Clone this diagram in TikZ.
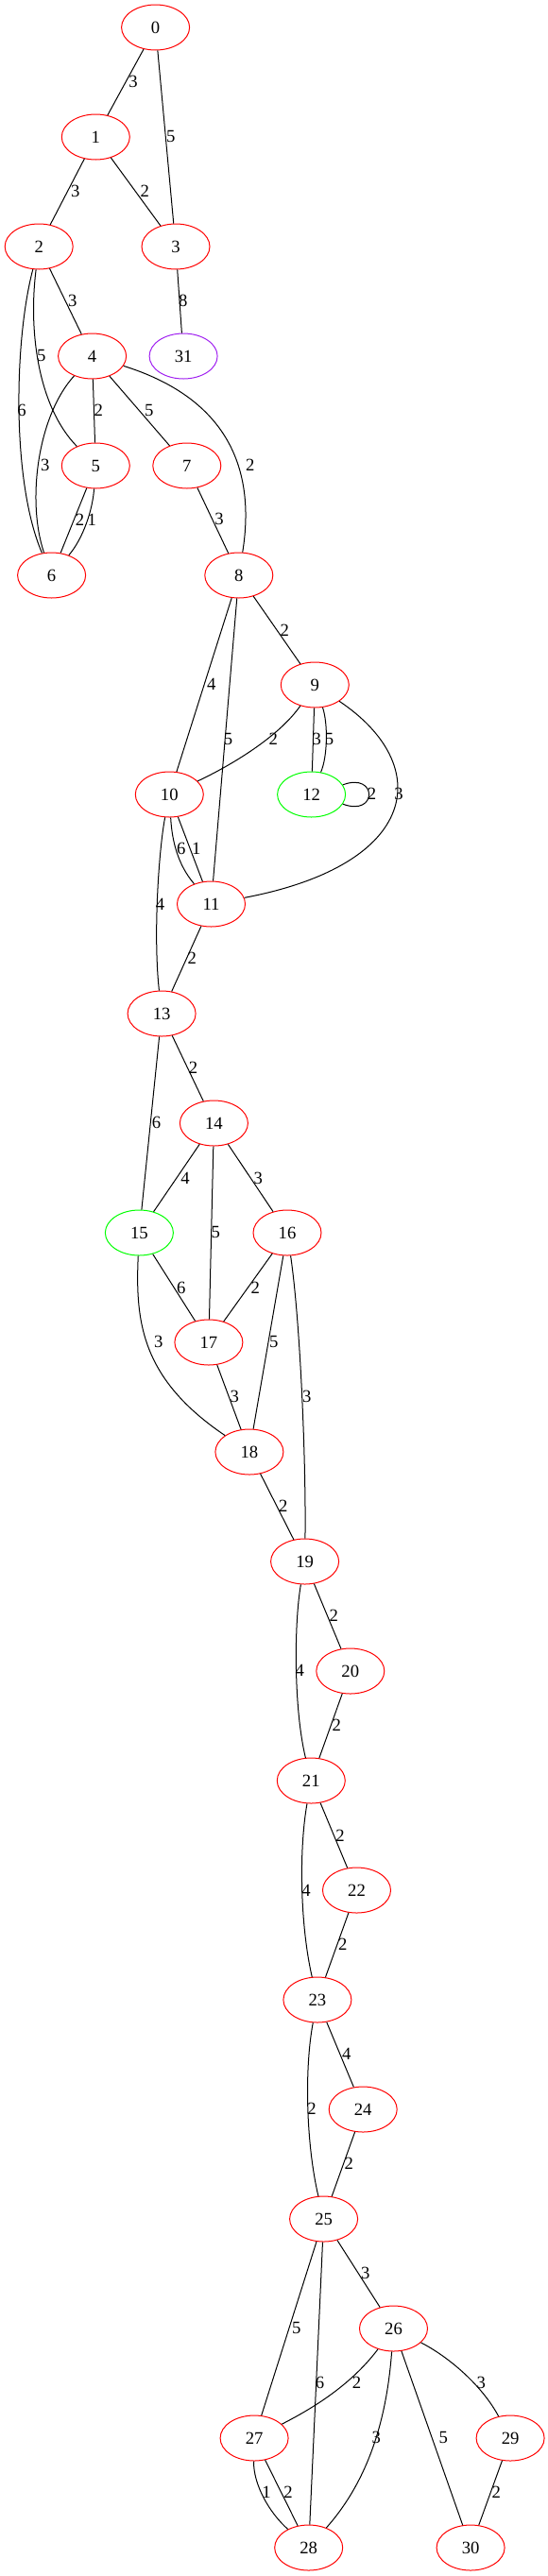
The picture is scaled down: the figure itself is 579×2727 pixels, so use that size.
\documentclass[tikz,border=0pt]{standalone}
\usepackage{fontspec}
\setmainfont{Liberation Serif}
\usetikzlibrary{shapes.geometric}
\definecolor{gvred}{HTML}{FF0000}
\definecolor{gvgreen}{HTML}{00FF00}
\definecolor{gvpurple}{HTML}{A020F0}
\begin{document}
\begin{tikzpicture}[x=0.75pt,y=-0.75pt,
  vtx/.style={ellipse,draw=gvred,line width=0.75pt,minimum width=54pt,minimum height=36pt,inner sep=0pt,font=\fontsize{14}{16}\selectfont},
  vgreen/.style={vtx,draw=gvgreen},
  vpurple/.style={vtx,draw=gvpurple},
  lbl/.style={inner sep=0pt,font=\fontsize{14}{16}\selectfont},
  con/.style={line width=0.75pt,draw=black}]
\useasboundingbox (0,0) rectangle (579,2727);
% vertices
\node[vtx] (n0) at (164.6,29) {0};
\node[vtx] (n1) at (101.3,145) {1};
\node[vtx] (n2) at (41.2,261) {2};
\node[vtx] (n3) at (186,261) {3};
\node[vtx] (n4) at (97.6,377) {4};
\node[vpurple] (n31) at (194.1,377) {31};
\node[vtx] (n5) at (101.3,493) {5};
\node[vtx] (n7) at (197.8,493) {7};
\node[vtx] (n6) at (54.6,609) {6};
\node[vtx] (n8) at (252.8,609) {8};
\node[vtx] (n9) at (333.3,725) {9};
\node[vtx] (n10) at (179.3,841) {10};
\node[vgreen] (n12) at (329.6,841) {12};
\node[vtx] (n11) at (223.5,957) {11};
\node[vtx] (n13) at (171.1,1073) {13};
\node[vtx] (n14) at (226.4,1189) {14};
\node[vgreen] (n15) at (147.4,1305) {15};
\node[vtx] (n16) at (304,1305) {16};
\node[vtx] (n17) at (220.9,1421) {17};
\node[vtx] (n18) at (263.9,1537) {18};
\node[vtx] (n19) at (322.6,1653) {19};
\node[vtx] (n20) at (370.8,1769) {20};
\node[vtx] (n21) at (329.3,1885) {21};
\node[vtx] (n22) at (377.5,2001) {22};
\node[vtx] (n23) at (335.9,2117) {23};
\node[vtx] (n24) at (384.2,2233) {24};
\node[vtx] (n25) at (342.6,2349) {25};
\node[vtx] (n26) at (416.5,2465) {26};
\node[vtx] (n27) at (269.1,2581) {27};
\node[vtx] (n29) at (540.1,2581) {29};
\node[vtx] (n28) at (326.7,2697) {28};
\node[vtx] (n30) at (498.1,2697) {30};
% connectors
\draw[con] (n0) -- (n1);
\draw[con] (n0) -- (n3);
\draw[con] (n1) -- (n2);
\draw[con] (n1) -- (n3);
\draw[con] (n3) -- (n31);
\draw[con] (n2) -- (n4);
\draw[con] (n2) .. controls (15,360) and (12,510) .. (n6);
\draw[con] (n2) .. controls (30,350) and (40,430) .. (n5);
\draw[con] (n4) .. controls (40,440) and (28,530) .. (n6);
\draw[con] (n4) -- (n5);
\draw[con] (n4) -- (n7);
\draw[con] (n4) .. controls (235,420) and (272,490) .. (n8);
\draw[con] (n5) -- (n6);
\draw[con] (n5) .. controls (98,540) and (88,570) .. (n6);
\draw[con] (n7) -- (n8);
\draw[con] (n8) -- (n9);
\draw[con] (n8) -- (n10);
\draw[con] (n8) -- (n11);
\draw[con] (n9) .. controls (295,780) and (245,810) .. (n10);
\draw[con] (n9) -- (n12);
\draw[con] (n9) .. controls (347,765) and (347,800) .. (n12);
\draw[con] (n9) .. controls (460,810) and (445,915) .. (n11);
\draw[con] (n12.17) .. controls +(37,-14) and +(37,14) .. (n12.-17);
\draw[con] (n10) .. controls (182,890) and (188,915) .. (n11);
\draw[con] (n10) -- (n11);
\draw[con] (n10) .. controls (168,900) and (162,990) .. (n13);
\draw[con] (n11) -- (n13);
\draw[con] (n13) -- (n14);
\draw[con] (n13) -- (n15);
\draw[con] (n14) -- (n15);
\draw[con] (n14) -- (n16);
\draw[con] (n14) -- (n17);
\draw[con] (n15) -- (n17);
\draw[con] (n15) .. controls (143,1400) and (150,1460) .. (n18);
\draw[con] (n16) -- (n17);
\draw[con] (n16) -- (n18);
\draw[con] (n16) .. controls (318,1400) and (324,1550) .. (n19);
\draw[con] (n17) -- (n18);
\draw[con] (n18) -- (n19);
\draw[con] (n19) -- (n20);
\draw[con] (n19) .. controls (311,1720) and (311,1810) .. (n21);
\draw[con] (n20) -- (n21);
\draw[con] (n21) -- (n22);
\draw[con] (n21) .. controls (316,1960) and (318,2040) .. (n23);
\draw[con] (n22) -- (n23);
\draw[con] (n23) -- (n24);
\draw[con] (n23) .. controls (322,2190) and (324,2270) .. (n25);
\draw[con] (n24) -- (n25);
\draw[con] (n25) -- (n26);
\draw[con] (n25) -- (n27);
\draw[con] (n25) -- (n28);
\draw[con] (n26) .. controls (375,2520) and (340,2545) .. (n27);
\draw[con] (n26) .. controls (410,2550) and (395,2620) .. (n28);
\draw[con] (n26) -- (n30);
\draw[con] (n26) .. controls (475,2495) and (510,2525) .. (n29);
\draw[con] (n27) .. controls (268,2630) and (285,2660) .. (n28);
\draw[con] (n27) -- (n28);
\draw[con] (n29) -- (n30);
% edge labels
\foreach \nm/\x/\y/\t in {
  a/141/86/3, b/180.8/144/5, c/79.8/202/3, d/153.3/202/2, e/193.8/318/8,
  f/76.8/318/3, g/23/434/6, h/43.8/376/5, i/47.9/492/3, j/104.3/434/2,
  k/157.8/434/5, l/264.7/492/2, m/84.6/550/2, n/97.3/550/1, o/232/549/3,
  p/301.4/667/2, q/223.8/724/4, r/241.6/782/5, s/289.2/782/2, t/335.2/782/3,
  u/348.5/782/5, v/422/840/3, w/393.5/840/2, x/191.9/898/6, y/207.9/898/1,
  z/169.6/957/4, aa/203.4/1014/2, ab/204.5/1130/2, ac/165.6/1188/6, ad/196/1247/4,
  ae/273.2/1247/3, af/228.3/1304/5, ag/191.9/1363/6, ah/167.8/1420/3, ai/270.2/1363/2,
  aj/289.9/1420/5, ak/324.8/1478/3, al/248.3/1478/3, am/299.9/1594/2, an/353.4/1710/2,
  ao/317.4/1768/4, ap/356.3/1826/2, aq/360/1943/2, ar/324/2001/4, as/362.7/2058/2,
  at/366.7/2174/4, au/330/2232/2, av/369.3/2290/2, aw/386.8/2406/3, ax/313.7/2464/5,
  ay/338.5/2522/6, az/377.5/2522/2, ba/398.3/2580/3, bb/469.2/2580/5, bc/509.3/2522/3,
  bd/282.1/2638/1, be/305.1/2638/2, bf/525.2/2638/2}
  \node[lbl] (l\nm) at (\x,\y) {\t};
\end{tikzpicture}
\end{document}
